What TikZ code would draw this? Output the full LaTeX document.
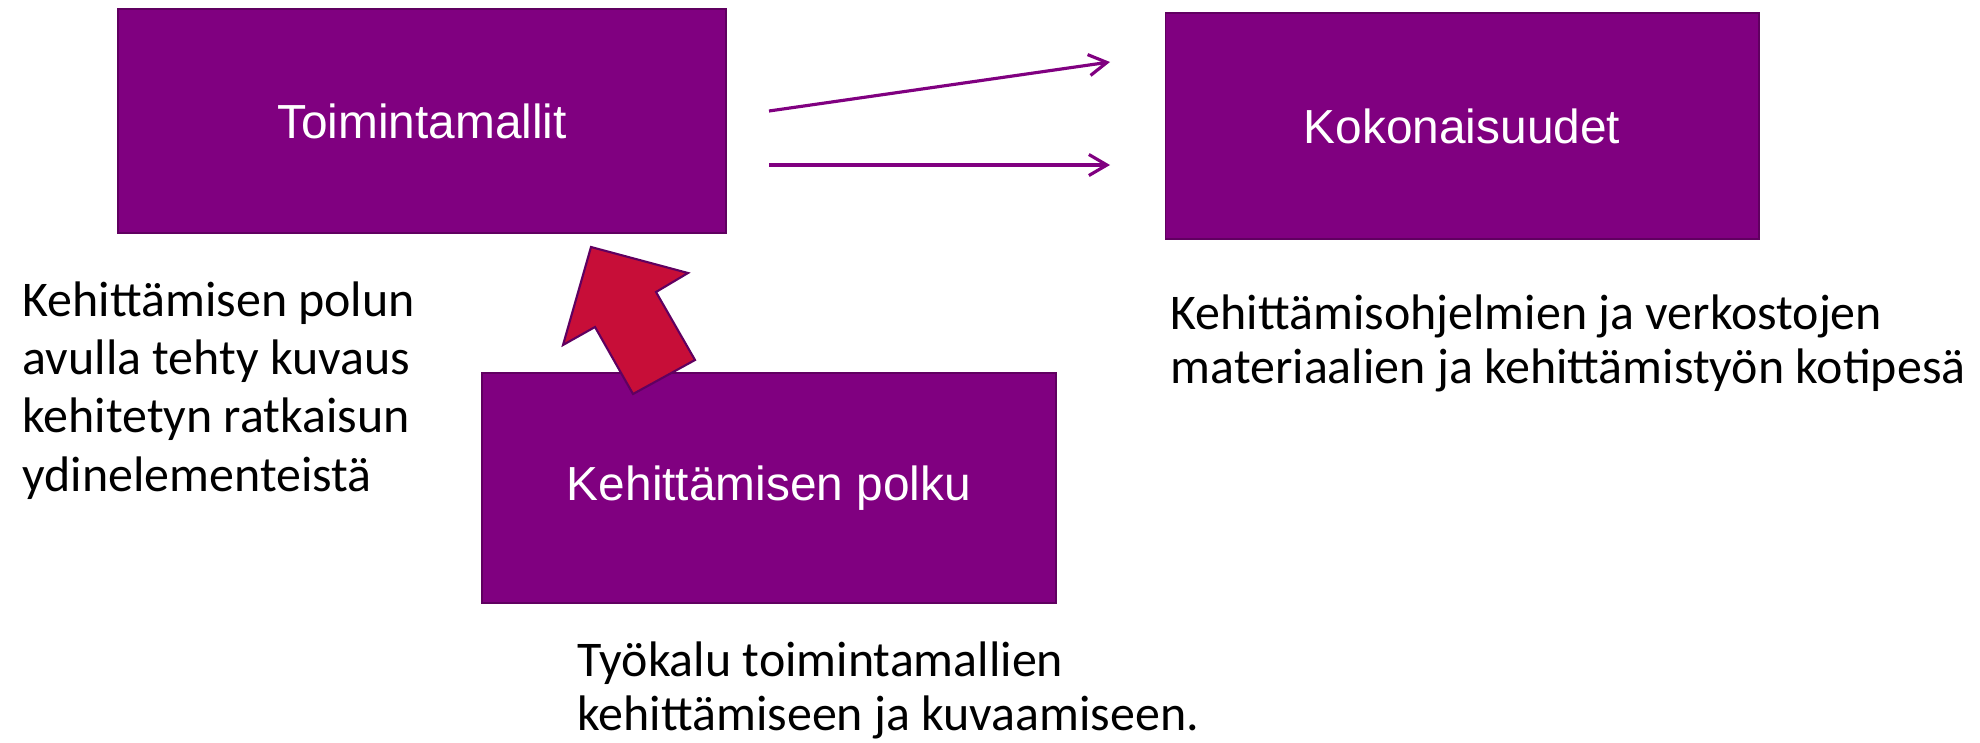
\documentclass[tikz,border=0pt]{standalone}
\usepackage{fontspec}
\setmainfont{Carlito}
\newfontfamily\boxfont{Liberation Sans}
\usetikzlibrary{arrows.meta}
\definecolor{plum}{RGB}{128,0,128}
\definecolor{plumedge}{RGB}{96,0,96}
\definecolor{crimson}{RGB}{199,14,56}
\begin{document}
\begin{tikzpicture}[x=0.01cm,y=-0.01cm,
  box/.style={draw=plumedge,line width=0.45pt,fill=plum,text=white,
    font=\boxfont\fontsize{13.6}{16}\selectfont},
  note/.style={align=left,inner sep=0pt,anchor=base west,
    font=\fontsize{14.2}{15.1}\selectfont},
  link/.style={draw=plum,line width=0.9pt,-{Straight Barb[length=1.8mm,width=2.1mm]}}]
\useasboundingbox (0,0) rectangle (1980,742);
\node[box,minimum width=6.08cm,minimum height=2.24cm] at (422,121) (toim) {Toimintamallit};
\node[box,minimum width=5.93cm,minimum height=2.26cm] at (1462,126) (koko) {Kokonaisuudet};
\node[box,minimum width=5.74cm,minimum height=2.30cm] at (769,488) (polku) {Kehittämisen polku};
\coordinate (up1) at (769,111);
\coordinate (up2) at (1110,62);
\coordinate (lo1) at (769,165);
\coordinate (lo2) at (1110,165);
\draw[link] (up1) -- (up2);
\draw[link] (lo1) -- (lo2);
% block arrow from the path up to the models
\draw[fill=crimson,draw=plumedge,line width=0.6pt,line join=miter]
  (591,247) -- (688,273) -- (656,292) -- (695,360) -- (633,394)
  -- (595,327) -- (563,345) -- cycle;
% base anchor = last line
\node[note,font=\fontsize{14.2}{16.5}\selectfont] at (22,491) (tpolku) {Kehittämisen polun\\avulla tehty kuvaus\\kehitetyn ratkaisun\\ydinelementeistä};
\node[note] at (1170,383) (tkoko) {Kehittämisohjelmien ja verkostojen\\materiaalien ja kehittämistyön kotipesä};
\node[note] at (577,730) (ttyo) {Työkalu toimintamallien\\kehittämiseen ja kuvaamiseen.};
\end{tikzpicture}
\end{document}
